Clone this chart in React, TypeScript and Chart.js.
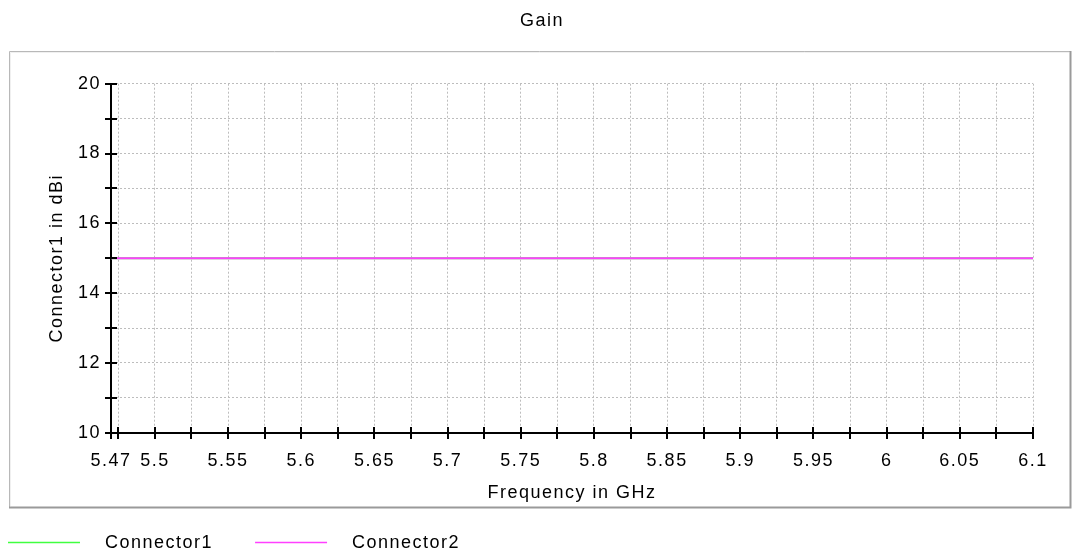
import React, { useEffect, useRef } from "react";
import { Chart, registerables } from "chart.js";

Chart.register(...registerables);

const chartTitle = "Gain";
const xAxisTitle = "Frequency in GHz";
const yAxisTitle = "Connector1 in dBi";

const frequencies = [5.47, 5.5, 5.55, 5.6, 5.65, 5.7, 5.75, 5.8, 5.85, 5.9, 5.95, 6, 6.05, 6.1];
const connector1Gain = [15, 15, 15, 15, 15, 15, 15, 15, 15, 15, 15, 15, 15, 15];
const connector2Gain = [15, 15, 15, 15, 15, 15, 15, 15, 15, 15, 15, 15, 15, 15];

const seriesLabels = ["Connector1", "Connector2"];
const seriesColors = ["#40ff40", "#ff40ff"];

const xTickValues = [
  5.47, 5.475, 5.5, 5.525, 5.55, 5.575, 5.6, 5.625, 5.65, 5.675, 5.7, 5.725, 5.75, 5.775,
  5.8, 5.825, 5.85, 5.875, 5.9, 5.925, 5.95, 5.975, 6, 6.025, 6.05, 6.075, 6.1,
];
const xTickLabels = ["5.47", "5.5", "5.55", "5.6", "5.65", "5.7", "5.75", "5.8", "5.85", "5.9", "5.95", "6", "6.05", "6.1"];
const yTickValues = [10, 11, 12, 13, 14, 15, 16, 17, 18, 19, 20];
const yTickLabels = ["10", "12", "14", "16", "18", "20"];

const FONT = "'Liberation Sans', Arial, Helvetica, sans-serif";
const SPACING = "1.5px";

const fmt = (v: number) => String(Number(v.toFixed(3)));

const spacingPlugin = {
  id: "letterSpacing",
  afterInit(chart: any) {
    chart.ctx.letterSpacing = SPACING;
  },
  beforeUpdate(chart: any) {
    chart.ctx.letterSpacing = SPACING;
  },
  beforeDraw(chart: any) {
    chart.ctx.letterSpacing = SPACING;
  },
};

const panelPlugin = {
  id: "panel",
  beforeDraw(chart: any) {
    const ctx = chart.ctx;
    ctx.save();
    ctx.fillStyle = "#ffffff";
    ctx.fillRect(0, 0, chart.width, chart.height);
    ctx.strokeStyle = "#b8b8b8";
    ctx.lineWidth = 1;
    ctx.beginPath();
    ctx.moveTo(9.5, 507);
    ctx.lineTo(9.5, 51.5);
    ctx.lineTo(1070, 51.5);
    ctx.stroke();
    ctx.strokeStyle = "#9a9a9a";
    ctx.lineWidth = 2;
    ctx.beginPath();
    ctx.moveTo(1070.5, 51);
    ctx.lineTo(1070.5, 507.5);
    ctx.lineTo(9, 507.5);
    ctx.stroke();
    ctx.strokeStyle = "#f0f0f0";
    ctx.lineWidth = 1;
    ctx.beginPath();
    ctx.moveTo(10.5, 506);
    ctx.lineTo(10.5, 52.5);
    ctx.lineTo(1069, 52.5);
    ctx.stroke();
    ctx.restore();
  },
};

const tickMarksPlugin = {
  id: "tickMarks",
  afterDraw(chart: any) {
    const ctx = chart.ctx;
    const { left, bottom } = chart.chartArea;
    const xs = chart.scales.x;
    const ys = chart.scales.y;
    ctx.save();
    ctx.strokeStyle = "#000000";
    ctx.lineWidth = 2;
    ctx.setLineDash([]);
    ctx.beginPath();
    xs.ticks.forEach((t: any) => {
      const px = Math.round(xs.getPixelForValue(t.value));
      ctx.moveTo(px, Math.round(bottom) - 6);
      ctx.lineTo(px, Math.round(bottom) + 6);
    });
    ys.ticks.forEach((t: any) => {
      const py = Math.round(ys.getPixelForValue(t.value));
      ctx.moveTo(Math.round(left) - 6, py);
      ctx.lineTo(Math.round(left) + 6, py);
    });
    ctx.stroke();
    ctx.restore();
  },
};

const legendPlugin = {
  id: "lineLegend",
  afterDraw(chart: any) {
    const ctx = chart.ctx;
    ctx.save();
    ctx.font = `18px ${FONT}`;
    ctx.letterSpacing = SPACING;
    ctx.textBaseline = "middle";
    ctx.textAlign = "left";
    ctx.setLineDash([]);
    let x = 8;
    const y = 542.5;
    chart.data.datasets.forEach((ds: any) => {
      ctx.strokeStyle = ds.borderColor;
      ctx.lineWidth = 1.5;
      ctx.beginPath();
      ctx.moveTo(x, y);
      ctx.lineTo(x + 72, y);
      ctx.stroke();
      ctx.fillStyle = "#000000";
      const tx = x + 97;
      ctx.fillText(ds.label, tx, y + 0.5);
      x = tx + ctx.measureText(ds.label).width + 42;
    });
    ctx.restore();
  },
};

export default function App() {
  const ref = useRef<HTMLCanvasElement | null>(null);

  useEffect(() => {
    if (!ref.current) return;
    const gridOpts = {
      color: "#bdbdbd",
      lineWidth: 1,
      drawTicks: false,
      tickLength: 0,
    };
    const chart = new Chart(ref.current, {
      type: "line",
      data: {
        datasets: [
          {
            label: seriesLabels[0],
            data: frequencies.map((f, i) => ({ x: f, y: connector1Gain[i] })),
            borderColor: seriesColors[0],
            backgroundColor: seriesColors[0],
            borderWidth: 2,
            pointRadius: 0,
            order: 1,
          },
          {
            label: seriesLabels[1],
            data: frequencies.map((f, i) => ({ x: f, y: connector2Gain[i] })),
            borderColor: seriesColors[1],
            backgroundColor: seriesColors[1],
            borderWidth: 2,
            pointRadius: 0,
            order: 0,
          },
        ],
      },
      options: {
        animation: false,
        responsive: false,
        devicePixelRatio: 1,
        layout: { padding: { left: 9, right: 0, top: 0, bottom: 0 } },
        plugins: {
          legend: { display: false },
          tooltip: { enabled: false },
          title: {
            display: true,
            text: chartTitle,
            color: "#000000",
            font: { family: FONT, size: 18, weight: "normal" },
            padding: { top: 10, bottom: 52.1 },
          },
        },
        scales: {
          x: {
            type: "linear",
            min: 5.47,
            max: 6.1,
            afterBuildTicks: (scale: any) => {
              scale.ticks = xTickValues.map((v) => ({ value: v }));
            },
            afterFit: (scale: any) => {
              scale.height = 121.3;
              scale.paddingRight = 42;
            },
            ticks: {
              autoSkip: false,
              maxRotation: 0,
              minRotation: 0,
              padding: 18,
              color: "#000000",
              font: { family: FONT, size: 18 },
              callback: (v: any) => (xTickLabels.includes(fmt(Number(v))) ? fmt(Number(v)) : ""),
            },
            grid: { ...gridOpts },
            border: { display: true, color: "#000000", width: 2, dash: [2, 2] },
            title: {
              display: true,
              text: xAxisTitle,
              color: "#000000",
              font: { family: FONT, size: 18 },
              padding: { top: 0, bottom: 49.7 },
            },
          },
          y: {
            type: "linear",
            min: 10,
            max: 20,
            afterBuildTicks: (scale: any) => {
              scale.ticks = yTickValues.map((v) => ({ value: v }));
            },
            afterFit: (scale: any) => {
              scale.width = 102;
            },
            ticks: {
              autoSkip: false,
              padding: 10,
              color: "#000000",
              font: { family: FONT, size: 18 },
              callback: (v: any) => (yTickLabels.includes(fmt(Number(v))) ? fmt(Number(v)) : ""),
            },
            grid: { ...gridOpts },
            border: { display: true, color: "#000000", width: 2, dash: [2, 2] },
            title: {
              display: true,
              text: yAxisTitle,
              color: "#000000",
              font: { family: FONT, size: 18 },
              padding: { top: 37.2, bottom: 0 },
            },
          },
        },
      } as any,
      plugins: [spacingPlugin, panelPlugin, tickMarksPlugin, legendPlugin],
    });
    return () => chart.destroy();
  }, []);

  return (
    <div style={{ position: "absolute", left: 0, top: 0, width: 1075, height: 554, overflow: "hidden", background: "#fff" }}>
      <canvas ref={ref} width={1075} height={554} style={{ display: "block", width: 1075, height: 554 }} />
    </div>
  );
}
